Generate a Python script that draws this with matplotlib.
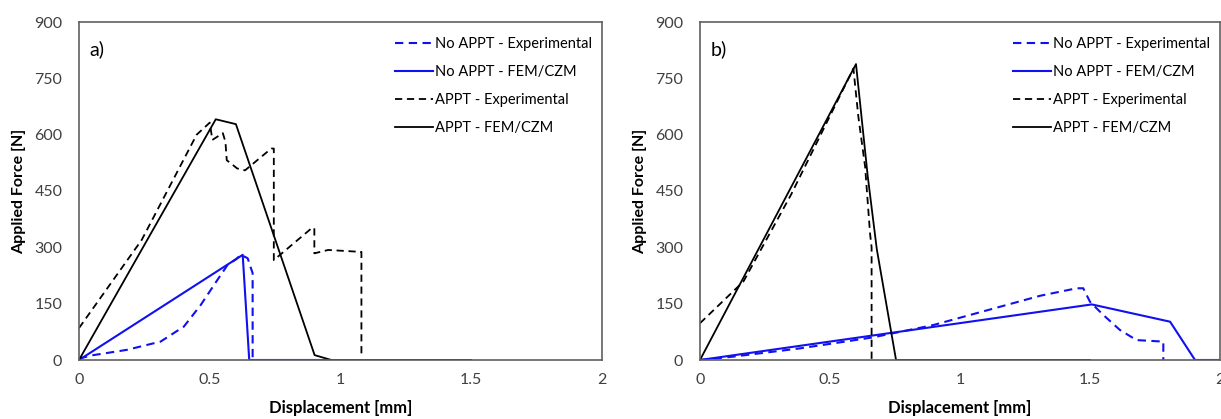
import numpy as np
import matplotlib
matplotlib.use("Agg")
import matplotlib.pyplot as plt

plt.rcParams['font.family'] = ['Lato', 'DejaVu Sans']

# ---------- panel a) data (displacement mm, force N) ----------
a_noappt_exp_x = [0, 0.055, 0.183, 0.312, 0.401, 0.465, 0.529, 0.568, 0.60, 0.619, 0.645, 0.664, 0.664]
a_noappt_exp_y = [4, 13, 27, 49, 89, 146, 213, 253, 268, 280, 271, 231, 0]
a_noappt_fem_x = [0, 0.626, 0.651, 0.965]
a_noappt_fem_y = [0, 280, 0, 0]
a_appt_exp_x = [0, 0.24, 0.45, 0.50, 0.51, 0.55, 0.56, 0.565, 0.605, 0.635, 0.735, 0.745, 0.745,
                0.888, 0.90, 0.90, 0.953, 1.075, 1.08, 1.08]
a_appt_exp_y = [85, 320, 600, 632, 586, 604, 581, 532, 510, 505, 563, 563, 266,
                350, 352, 284, 293, 288, 288, 15]
a_appt_fem_x = [0, 0.523, 0.60, 0.901, 0.965, 1.5]
a_appt_fem_y = [0, 641, 628, 13, 0, 0]

# ---------- panel b) data ----------
b_noappt_exp_x = [0, 0.128, 0.385, 0.663, 0.897, 1.308, 1.449, 1.474, 1.50, 1.551, 1.615, 1.679, 1.782, 1.782]
b_noappt_exp_y = [0, 9, 31, 60, 93, 171, 191, 191, 155, 120, 80, 53, 49, 0]
b_noappt_fem_x = [0, 1.507, 1.808, 1.904, 2.0]
b_noappt_fem_y = [0, 148, 102, 0, 0]
b_appt_exp_x = [0, 0.167, 0.35, 0.59, 0.609, 0.635, 0.654, 0.66, 0.66]
b_appt_exp_y = [98, 209, 440, 776, 648, 515, 337, 300, 0]
b_appt_fem_x = [0, 0.60, 0.645, 0.68, 0.754, 1.5]
b_appt_fem_y = [0, 788, 490, 295, 0, 0]

labels = ["No APPT - Experimental", "No APPT - FEM/CZM",
          "APPT - Experimental", "APPT - FEM/CZM"]
BLUE = '#1010f0'
DASH = (0, (4, 2.6))

fig = plt.figure(figsize=(12.21, 4.19), dpi=100)
ax_a = fig.add_axes([79/1221, 59/419, 523/1221, 338/419])
ax_b = fig.add_axes([700/1221, 59/419, 520/1221, 338/419])

panels = [
    (ax_a, "a)", a_noappt_exp_x, a_noappt_exp_y, a_noappt_fem_x, a_noappt_fem_y,
     a_appt_exp_x, a_appt_exp_y, a_appt_fem_x, a_appt_fem_y),
    (ax_b, "b)", b_noappt_exp_x, b_noappt_exp_y, b_noappt_fem_x, b_noappt_fem_y,
     b_appt_exp_x, b_appt_exp_y, b_appt_fem_x, b_appt_fem_y),
]

for ax, tag, nex, ney, nfx, nfy, aex, aey, afx, afy in panels:
    ax.plot(nex, ney, color=BLUE, lw=1.5, linestyle=DASH, label=labels[0])
    ax.plot(nfx, nfy, color=BLUE, lw=1.5, label=labels[1])
    ax.plot(aex, aey, color='black', lw=1.3, linestyle=DASH, label=labels[2])
    ax.plot(afx, afy, color='black', lw=1.3, label=labels[3])

    ax.set_xlim(0, 2)
    ax.set_ylim(0, 900)
    ax.set_xticks([0, 0.5, 1, 1.5, 2])
    ax.set_xticklabels(['0', '0.5', '1', '1.5', '2'])
    ax.set_yticks(np.arange(0, 901, 150))
    ax.tick_params(length=0, labelsize=11.5, colors='#404040', pad=9)
    ax.tick_params(axis='y', pad=12)
    for s in ax.spines.values():
        s.set_color('#606060')
        s.set_linewidth(1.2)
    ax.set_xlabel("Displacement [mm]", fontsize=12, fontweight='bold', labelpad=10)
    ax.set_ylabel("Applied Force [N]", fontsize=11.5, fontweight='bold', labelpad=6)
    ax.text(0.02, 0.92, tag, transform=ax.transAxes, fontsize=14, va='center', ha='left')

    leg = ax.legend(loc='upper right', bbox_to_anchor=(1.0, 0.985), frameon=False,
                    fontsize=10.5, handlelength=2.6, handletextpad=0.1,
                    labelspacing=0.95, borderaxespad=0.3)

fig.savefig("out.png", dpi=100)
